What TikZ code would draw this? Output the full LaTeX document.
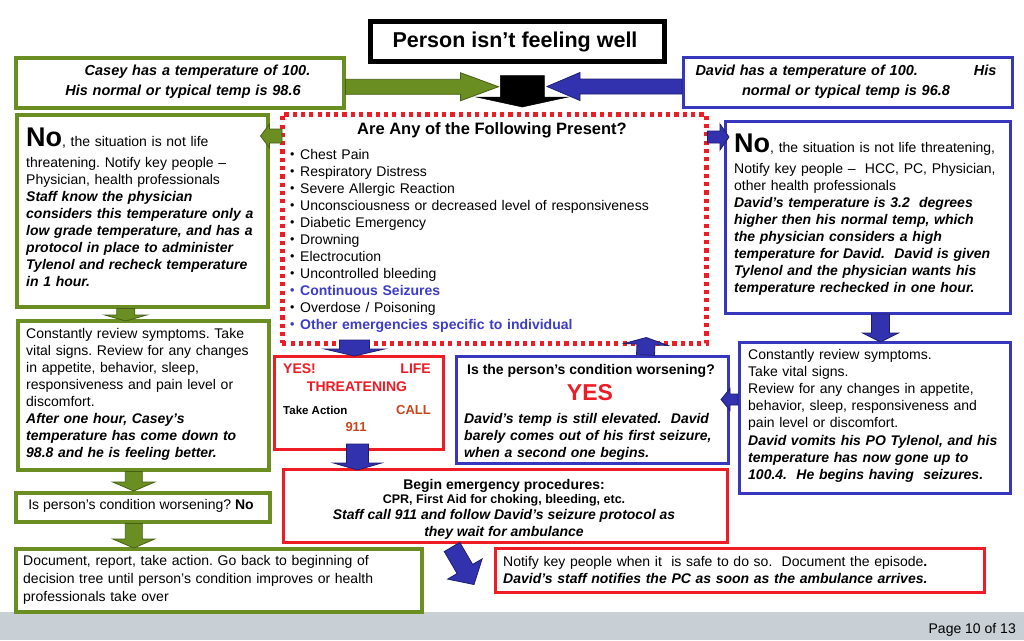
\documentclass[tikz,border=0pt]{standalone}
\usepackage{fontspec}
\setmainfont{Liberation Sans}
\usetikzlibrary{calc}
\frenchspacing
\definecolor{grn}{RGB}{107,142,35}
\definecolor{grndk}{RGB}{70,95,20}
\definecolor{blu}{RGB}{55,55,190}
\definecolor{bluf}{RGB}{50,50,175}
\definecolor{bludk}{RGB}{30,30,110}
\definecolor{blutx}{RGB}{60,60,205}
\definecolor{rd}{RGB}{238,28,36}
\definecolor{calltx}{RGB}{200,70,30}
\definecolor{band}{RGB}{200,208,214}
% block arrow: #1 style, #2 tail, #3 tip, #4 shaft half width, #5 head half width, #6 head length
\newcommand\blockarrow[6]{%
  \coordinate (bas) at (#2);
  \coordinate (bat) at (#3);
  \coordinate (bah) at ($(bat)!#6!(bas)$);
  \draw[#1] ($(bas)!#4!90:(bat)$) -- ($(bah)!#4!90:(bat)$) -- ($(bah)!#5!90:(bat)$) -- (bat)
    -- ($(bah)!#5!-90:(bat)$) -- ($(bah)!#4!-90:(bat)$) -- ($(bas)!#4!-90:(bat)$) -- cycle;}
\newcommand\itembullet{\makebox[10pt][l]{\raisebox{0.7pt}{\fontsize{12.5}{12}\selectfont•}}}
\begin{document}
\begin{tikzpicture}[x=1pt,y=-1pt,
  boxbase/.style={draw, fill=white, inner sep=0pt, anchor=north west},
  gbox/.style={boxbase, draw=grn, line width=3.5pt},
  bbox/.style={boxbase, draw=blu, line width=3pt},
  rbox/.style={boxbase, draw=rd, line width=3pt},
  kbox/.style={boxbase, draw=black, line width=4.5pt},
  dbox/.style={boxbase, draw=rd, line width=4.5pt, dash pattern=on 4.2pt off 4.1pt, fill=none},
  txt/.style={inner sep=0pt, anchor=base west, text width=#1, align=left, font=\fontsize{14}{17}\selectfont},
  txt/.default=560pt,
  ctxt/.style={inner sep=0pt, anchor=base, text width=#1, align=center, font=\fontsize{14}{17}\selectfont},
  ctxt/.default=440pt,
  bi/.style={font=\fontsize{14}{17}\selectfont\bfseries\itshape},
  garrow/.style={fill=grn, draw=grndk, line width=0.8pt},
  bluarrow/.style={fill=bluf, draw=bludk, line width=0.8pt},
  karrow/.style={fill=black, draw=black, line width=0.5pt}]
\useasboundingbox (0,0) rectangle (1024,640);
\fill[white] (0,0) rectangle (1024,640);
\fill[band] (0,612) rectangle (1024,640);

% ---------- boxes ----------
\node[kbox, minimum width=294pt, minimum height=40pt] (title) at (368,19) {};
\node[gbox, minimum width=328pt, minimum height=50pt] (casey) at (14,56) {};
\node[bbox, minimum width=329pt, minimum height=50pt] (david) at (682,56) {};
\node[gbox, minimum width=251pt, minimum height=192pt] (leftNo) at (15,113) {};
\node[bbox, minimum width=285pt, minimum height=192pt] (rightNo) at (724,120) {};
\node[dbox, minimum width=424pt, minimum height=229pt] (dash) at (280,112) {};
\node[gbox, minimum width=251pt, minimum height=149pt] (leftConst) at (16,319) {};
\node[gbox, minimum width=254pt, minimum height=29pt] (leftWorse) at (14,491) {};
\node[gbox, minimum width=406pt, minimum height=63pt] (doc) at (14,547) {};
\node[rbox, minimum width=169pt, minimum height=93pt] (yes) at (273,355) {};
\node[bbox, minimum width=272pt, minimum height=107pt] (isperson) at (455,355) {};
\node[bbox, minimum width=271pt, minimum height=151pt] (rightConst) at (738,341) {};
\node[rbox, minimum width=444pt, minimum height=73pt] (begin) at (282,468) {};
\node[rbox, minimum width=489pt, minimum height=44pt] (notify) at (494,547) {};

% ---------- block arrows ----------
\coordinate (tipA) at ($(casey.east)+(153,4)$);
\coordinate (tipB) at ($(david.west)+(-135,4)$);
\blockarrow{garrow}{$(casey.east)+(0,4)$}{tipA}{7.5pt}{14pt}{38pt}
\blockarrow{bluarrow}{$(david.west)+(0,4)$}{tipB}{7.5pt}{14pt}{33pt}
\blockarrow{karrow}{$(title.south)+(5,12)$}{$(dash.north)+(28,-5)$}{22pt}{46pt}{10pt}
\blockarrow{garrow}{$(dash.north west)+(2,24)$}{$(leftNo.north east)+(-9,23)$}{7pt}{12pt}{9pt}
\blockarrow{bluarrow}{$(dash.north east)+(-1,25)$}{$(rightNo.north west)+(5,17)$}{6pt}{13pt}{9pt}
\blockarrow{garrow}{$(leftNo.south)+(-16.5,0)$}{$(leftConst.north)+(-17.5,2)$}{9pt}{21pt}{6pt}
\blockarrow{garrow}{$(leftConst.south)+(-9.5,0)$}{$(leftWorse.north)+(-9,0)$}{8.5pt}{21pt}{9pt}
\blockarrow{garrow}{$(leftWorse.south)+(-9,0)$}{$(doc.north)+(-85,1)$}{8.5pt}{21pt}{9pt}
\blockarrow{bluarrow}{$(rightNo.south)+(12.5,-1)$}{$(rightConst.north)+(5.5,1)$}{9pt}{18pt}{9pt}
\blockarrow{bluarrow}{$(rightConst.west)+(0,-18.5)$}{$(isperson.east)+(-9,-10.5)$}{5.5pt}{11pt}{9pt}
\blockarrow{bluarrow}{$(isperson.north)+(53,0)$}{$(dash.south)+(152,-8)$}{9pt}{22pt}{7pt}
\blockarrow{bluarrow}{$(yes.north)+(-4.5,-15)$}{$(yes.north)+(-4.5,1)$}{15pt}{30pt}{7pt}
\blockarrow{bluarrow}{$(yes.south)+(-1.5,-7)$}{$(begin.north)+(-148,2)$}{11pt}{24pt}{7pt}
\blockarrow{bluarrow}{$(begin.south west)+(170,3)$}{$(notify.west)+(-20,14)$}{9pt}{20pt}{18pt}

% ---------- texts ----------
\node[inner sep=0pt, anchor=base, font=\fontsize{21.5}{24}\selectfont\bfseries] (titleT) at (515,47) {Person isn’t feeling well};
\node[ctxt=330pt, font=\fontsize{14.5}{20}\selectfont\bfseries\itshape] (caseyT) at (183,75)
  {\hspace*{29pt}Casey has a temperature of 100.\\His normal or typical temp is 98.6};
\node[ctxt=330pt, font=\fontsize{14.5}{20}\selectfont\bfseries\itshape] (davidT) at (846,75)
  {David has a temperature of 100.\hspace{56pt}His\\normal or typical temp is 96.8};

\node[txt] (leftNoT) at (26,146)
  {{\fontsize{27}{27}\selectfont\bfseries No}, the situation is not life\\[4pt]
   threatening. Notify key people –\\
   Physician, health professionals\\
   \bfseries\itshape Staff know the physician\\
   considers this temperature only a\\
   low grade temperature, and has a\\
   protocol in place to administer\\
   Tylenol and recheck temperature\\
   in 1 hour.};

\node[txt] (rightNoT) at (734,152)
  {{\fontsize{27}{27}\selectfont\bfseries No}, the situation is not life threatening,\\[4pt]
   Notify key people –\ \ HCC, PC, Physician,\\
   other health professionals\\
   \bfseries\itshape David’s temperature is 3.2\ \ degrees\\
   higher then his normal temp, which\\
   the physician considers a high\\
   temperature for David.\ \ David is given\\
   Tylenol and the physician wants his\\
   temperature rechecked in one hour.};

\node[inner sep=0pt, anchor=base, font=\fontsize{16.5}{20}\selectfont\bfseries] (dashT) at (492,134) {Are Any of the Following Present?};
\node[txt] (dashL) at (290,159)
  {\itembullet Chest Pain\\
   \itembullet Respiratory Distress\\
   \itembullet Severe Allergic Reaction\\
   \itembullet Unconsciousness or decreased level of responsiveness\\
   \itembullet Diabetic Emergency\\
   \itembullet Drowning\\
   \itembullet Electrocution\\
   \itembullet Uncontrolled bleeding\\
   {\color{blutx}\bfseries\itembullet Continuous Seizures}\\
   \itembullet Overdose / Poisoning\\
   {\color{blutx}\bfseries\itembullet Other emergencies specific to individual}};

\node[txt] (leftConstT) at (26,338)
  {Constantly review symptoms. Take\\
   vital signs. Review for any changes\\
   in appetite, behavior, sleep,\\
   responsiveness and pain level or\\
   discomfort.\\
   \bfseries\itshape After one hour, Casey’s\\
   temperature has come down to\\
   98.8 and he is feeling better.};

\node[inner sep=0pt, anchor=base, font=\fontsize{14}{17}\selectfont] (leftWorseT) at (141,509)
  {Is person’s condition worsening? \textbf{No}};

\node[txt, font=\fontsize{14}{18}\selectfont] (docT) at (23,565)
  {Document, report, take action. Go back to beginning of\\
   decision tree until person’s condition improves or health\\
   professionals take over};

% YES box
\node[inner sep=0pt, anchor=base west, text=rd, font=\fontsize{14}{17}\selectfont\bfseries] (yesA) at (283,373) {YES!};
\node[inner sep=0pt, anchor=base east, text=rd, font=\fontsize{14}{17}\selectfont\bfseries] (yesB) at (431,373) {LIFE};
\node[inner sep=0pt, anchor=base, text=rd, font=\fontsize{14}{17}\selectfont\bfseries] (yesC) at (357,391) {THREATENING};
\node[inner sep=0pt, anchor=base west, font=\fontsize{11.5}{14}\selectfont\bfseries] (yesD) at (283,414) {Take Action};
\node[inner sep=0pt, anchor=base east, text=calltx, font=\fontsize{13}{16}\selectfont\bfseries] (yesE) at (431,414) {CALL};
\node[inner sep=0pt, anchor=base, text=calltx, font=\fontsize{13}{16}\selectfont\bfseries] (yesF) at (356,431) {911};

% Is the person's condition worsening
\node[inner sep=0pt, anchor=base, font=\fontsize{14}{17}\selectfont\bfseries] (ispT) at (591,374) {Is the person’s condition worsening?};
\node[inner sep=0pt, anchor=base, text=rd, font=\fontsize{23}{26}\selectfont\bfseries] (ispY) at (590,400) {YES};
\node[txt, bi] (ispL) at (464,423)
  {David’s temp is still elevated.\ \ David\\
   barely comes out of his first seizure,\\
   when a second one begins.};

% right constantly
\node[txt, font=\fontsize{14}{17.2}\selectfont] (rightConstT) at (748,359)
  {Constantly review symptoms.\\
   Take vital signs.\\
   Review for any changes in appetite,\\
   behavior, sleep, responsiveness and\\
   pain level or discomfort.\\
   \bfseries\itshape David vomits his PO Tylenol, and his\\
   temperature has now gone up to\\
   100.4.\ \ He begins having\ \ seizures.};

% begin emergency
\node[inner sep=0pt, anchor=base, font=\fontsize{14}{17}\selectfont\bfseries] (beginA) at (504,489) {Begin emergency procedures:};
\node[inner sep=0pt, anchor=base, font=\fontsize{12.5}{15}\selectfont\bfseries] (beginB) at (504,503.5) {CPR, First Aid for choking, bleeding, etc.};
\node[inner sep=0pt, anchor=base, font=\fontsize{14}{17}\selectfont\bfseries\itshape] (beginC) at (504,519) {Staff call 911 and follow David’s seizure protocol as};
\node[inner sep=0pt, anchor=base, font=\fontsize{14}{17}\selectfont\bfseries\itshape] (beginD) at (504,536) {they wait for ambulance};

% notify
\node[txt] (notifyT) at (503,566)
  {Notify key people when it\ \ is safe to do so.\ \ Document the episode{\bfseries .}\\
   \bfseries\itshape David’s staff notifies the PC as soon as the ambulance arrives.};

\node[inner sep=0pt, anchor=base east, font=\fontsize{14}{17}\selectfont] (page) at (1016,633) {Page 10 of 13};
\end{tikzpicture}
\end{document}
